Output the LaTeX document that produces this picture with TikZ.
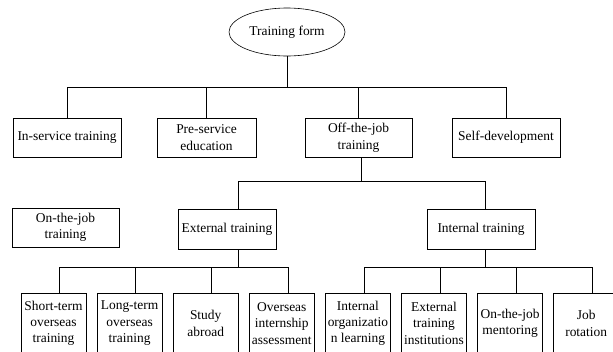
\documentclass[tikz,border=0pt]{standalone}
\usepackage{fontspec}
\setmainfont{Liberation Serif}
\usetikzlibrary{positioning,shapes.geometric}

\begin{document}
\begin{tikzpicture}[x=1bp,y=-1bp,node distance=10.5bp,line width=0.6pt]
  \tikzstyle{box}=[draw,align=center,inner sep=1pt,font=\fontsize{13.5}{16.5}\selectfont]
  \tikzstyle{leaf}=[box,minimum width=65bp,minimum height=60bp,anchor=north]
  \useasboundingbox (0,0) rectangle (613,351);
  % top of the tree
  \node[box,ellipse,minimum width=116bp,minimum height=48bp] (form) at (287,32) {Training form};
  \node[box,minimum width=108bp,minimum height=39bp] (insvc) at (67,137.5) {In-service training};
  \node[box,minimum width=99bp,minimum height=39bp] (presvc) at (206.5,137.5) {Pre-service\\education};
  \node[box,minimum width=107bp,minimum height=39bp] (offjob) at (358.5,137.5) {Off-the-job\\training};
  \node[box,minimum width=108bp,minimum height=39bp] (selfdev) at (506,137.5) {Self-development};
  \coordinate (bus1) at (287,87);
  \draw (form.south) -- (bus1);
  \draw (bus1) -| (insvc.north);
  \draw (bus1) -| (presvc.north);
  \draw (bus1) -| (offjob.north);
  \draw (bus1) -| (selfdev.north);
  % second level
  \node[box,minimum width=107bp,minimum height=39bp] (onjob) at (65.5,227.5) {On-the-job\\training};
  \node[box,minimum width=98bp,minimum height=40bp] (ext) at (227,229) {External training};
  \node[box,minimum width=108bp,minimum height=40bp] (int) at (481,229) {Internal training};
  \coordinate (bus2) at (361,181);
  \draw (bus2 |- offjob.south) -- (bus2);
  \draw (bus2) -| ([xshift=11bp]ext.north);
  \draw (bus2) -| ([xshift=4bp]int.north);
  % bottom row
  \node[leaf] (short) at (53.5,293) {Short-term\\overseas\\training};
  \node[leaf,right=of short] (long) {Long-term\\overseas\\training};
  \node[leaf,right=of long] (study) {Study\\abroad};
  \node[leaf,right=of study] (intern) {Overseas\\internship\\assessment};
  \node[leaf,right=of intern] (orglearn) {Internal\\organizatio\\n learning};
  \node[leaf,right=of orglearn] (inst) {External\\training\\institutions};
  \node[leaf,right=of inst] (mentor) {On-the-job\\mentoring};
  \node[leaf,right=of mentor] (rotate) {Job\\rotation};
  \coordinate (bus3) at (238,267);
  \coordinate (bus4) at (485,267);
  \draw (bus3 |- ext.south) -- (bus3);
  \draw (bus3) -| ([xshift=6bp]short.north);
  \draw (bus3) -| ([xshift=6bp]long.north);
  \draw (bus3) -| ([xshift=6bp]study.north);
  \draw (bus3) -| ([xshift=6bp]intern.north);
  \draw (bus4 |- int.south) -- (bus4);
  \draw (bus4) -| ([xshift=6bp]orglearn.north);
  \draw (bus4) -| ([xshift=6bp]inst.north);
  \draw (bus4) -| ([xshift=6bp]mentor.north);
  \draw (bus4) -| ([xshift=6bp]rotate.north);
\end{tikzpicture}
\end{document}
